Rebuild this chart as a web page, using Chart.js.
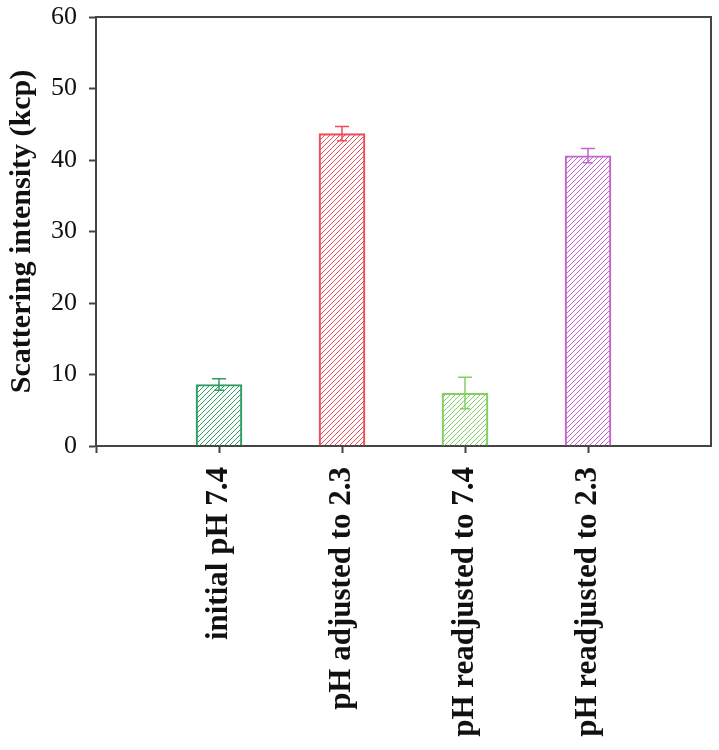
<!DOCTYPE html>
<html>
<head>
<meta charset="utf-8">
<script src="https://cdn.jsdelivr.net/npm/chart.js@4.4.0/dist/chart.umd.min.js"></script>
<style>
    body { margin: 0; background: #fff; }
    #wrap { width: 719px; height: 750px; }
</style>
</head>
<body>
<div id="wrap"><canvas id="scatterChart" width="719" height="750"></canvas></div>
<script>
// categories (empty slots at both ends keep the bars away from the axes)
const labels = ['', 'initial pH 7.4', 'pH adjusted to 2.3', 'pH readjusted to 7.4', 'pH readjusted to 2.3', ''];
const intensity = [null, 8.6, 43.7, 7.4, 40.6, null];
const errors = [null, 0.8, 1.0, 2.2, 1.0, null];
const barColors = [null, '#2f9c62', '#ee4d58', '#82cf62', '#c466cc'];
const yTicks = [0, 10, 20, 30, 40, 50, 60];

const FONT = '"Liberation Serif", "Times New Roman", serif';

function hatch(color) {
    const s = 5;
    const c = document.createElement('canvas');
    c.width = s; c.height = s;
    const g = c.getContext('2d');
    g.strokeStyle = color;
    g.lineWidth = 1;
    g.beginPath();
    g.moveTo(0, s); g.lineTo(s, 0);
    g.moveTo(-1, 1); g.lineTo(1, -1);
    g.moveTo(s - 1, s + 1); g.lineTo(s + 1, s - 1);
    g.stroke();
    return g.createPattern(c, 'repeat');
}

// box around plot area
const framePlugin = {
    id: 'frame',
    afterDraw(chart) {
        const { ctx, chartArea: a } = chart;
        ctx.save();
        ctx.strokeStyle = '#444';
        ctx.lineWidth = 2;
        ctx.beginPath();
        ctx.moveTo(a.left, a.top);
        ctx.lineTo(a.right, a.top);
        ctx.lineTo(a.right, a.bottom);
        ctx.stroke();
        ctx.restore();
    }
};

// symmetric error bars with caps
const errorBarPlugin = {
    id: 'errorBars',
    afterDatasetsDraw(chart) {
        const { ctx } = chart;
        const x = chart.scales.x, y = chart.scales.y;
        ctx.save();
        ctx.lineWidth = 1.5;
        intensity.forEach((v, i) => {
            if (v == null) return;
            const px = x.getPixelForValue(i);
            const top = y.getPixelForValue(v + errors[i]);
            const bot = y.getPixelForValue(v - errors[i]);
            ctx.strokeStyle = barColors[i];
            ctx.beginPath();
            ctx.moveTo(px, top); ctx.lineTo(px, bot);
            ctx.moveTo(px - 7, top); ctx.lineTo(px + 7, top);
            ctx.moveTo(px - 5, bot); ctx.lineTo(px + 5, bot);
            ctx.stroke();
        });
        ctx.restore();
    }
};

const ctx = document.getElementById('scatterChart').getContext('2d');
new Chart(ctx, {
    type: 'bar',
    data: {
        labels: labels,
        datasets: [{
            data: intensity,
            backgroundColor: barColors.map(c => c ? hatch(c) : 'transparent'),
            borderColor: barColors.map(c => c || 'transparent'),
            borderWidth: 1.5,
            barThickness: 46
        }]
    },
    options: {
        responsive: false,
        animation: false,
        layout: { padding: { left: 4, right: 8, top: 17, bottom: 0 } },
        plugins: { legend: { display: false }, tooltip: { enabled: false } },
        scales: {
            x: {
                offset: false,
                grid: {
                    offset: false,
                    drawOnChartArea: false,
                    tickLength: 7,
                    tickColor: c => c.index === labels.length - 1 ? 'transparent' : '#444',
                    tickWidth: 2
                },
                border: { color: '#444', width: 2 },
                ticks: {
                    autoSkip: false,
                    maxRotation: 90,
                    minRotation: 90,
                    padding: 14,
                    color: '#111',
                    font: { family: FONT, size: 31, weight: 'bold' }
                },
                afterFit: s => { s.height = 304; s.paddingLeft = 0; s.paddingRight = 0; }
            },
            y: {
                min: 0,
                max: 60,
                afterBuildTicks: s => { s.ticks = yTicks.map(v => ({ value: v })); },
                grid: { drawOnChartArea: false, tickLength: 7, tickColor: '#444', tickWidth: 2 },
                border: { color: '#444', width: 2 },
                ticks: {
                    padding: 12,
                    color: '#111',
                    font: { family: FONT, size: 26 }
                },
                title: {
                    display: true,
                    text: 'Scattering intensity (kcp)',
                    color: '#111',
                    padding: { top: 0, bottom: 4 },
                    font: { family: FONT, size: 30, weight: 'bold' }
                },
                afterFit: s => { s.width = 92; s.paddingTop = 0; s.paddingBottom = 0; }
            }
        }
    },
    plugins: [framePlugin, errorBarPlugin]
});
</script>
</body>
</html>
